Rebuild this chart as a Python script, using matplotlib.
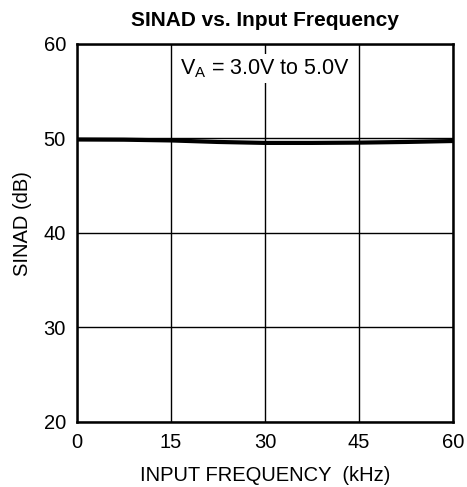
import numpy as np
import matplotlib
matplotlib.use('Agg')
import matplotlib.pyplot as plt

plt.rcParams['font.family'] = ['Liberation Sans', 'DejaVu Sans']

# SINAD readings across the input band
freq_khz = [0, 7.5, 15, 22.5, 30, 37.5, 45, 52.5, 60]
sinad_db = [49.88, 49.86, 49.78, 49.62, 49.52, 49.52, 49.55, 49.62, 49.72]

fig = plt.figure(figsize=(4.67, 4.87), dpi=100)
ax = fig.add_axes([0.165, 0.1335, 0.805, 0.7765])

ax.plot(freq_khz, sinad_db, color='black', linewidth=3, solid_capstyle='butt')

ax.set_xlim(0, 60)
ax.set_ylim(20, 60)
ax.set_xticks([0, 15, 30, 45, 60])
ax.set_yticks([20, 30, 40, 50, 60])
ax.grid(True, color='black', linewidth=1)
ax.tick_params(length=0, labelsize=14.5, pad=8)
for s in ax.spines.values():
    s.set_linewidth(1.8)

ax.set_title('SINAD vs. Input Frequency', fontsize=15, fontweight='bold', pad=13)
ax.set_xlabel('INPUT FREQUENCY  (kHz)', fontsize=14.5, labelpad=10)
ax.set_ylabel('SINAD (dB)', fontsize=14.5)
ax.yaxis.set_label_coords(-0.12, 0.524)

ax.text(30, 57.4, r'V$_\mathregular{A}$ = 3.0V to 5.0V', fontsize=15.5, ha='center', va='center',
        bbox=dict(facecolor='white', edgecolor='none', pad=2))

fig.savefig('out.png', dpi=100)
